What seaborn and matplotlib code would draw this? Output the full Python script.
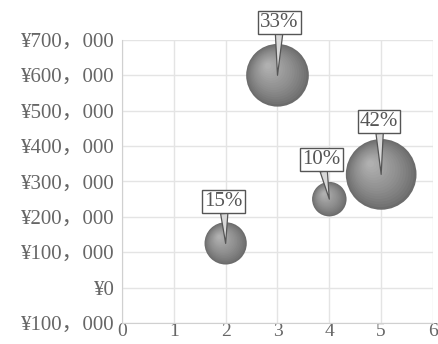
import matplotlib
matplotlib.use('Agg')
import matplotlib.pyplot as plt
import matplotlib.transforms as mtransforms
import seaborn as sns
import numpy as np
import pandas as pd

# data
x_vals = [2, 3, 4, 5]
y_vals = [125000, 600000, 250000, 320000]
shares = [15, 33, 10, 42]
share_labels = ['15%', '33%', '10%', '42%']
y_ticks = [-100000, 0, 100000, 200000, 300000, 400000, 500000, 600000, 700000]
y_tick_labels = ['¥100，000', '¥0', '¥100，000', '¥200，000', '¥300，000',
                 '¥400，000', '¥500，000', '¥600，000', '¥700，000']
x_ticks = [0, 1, 2, 3, 4, 5, 6]

df = pd.DataFrame({'x': x_vals, 'y': y_vals, 'share': shares})

sns.set_style('white')
plt.rcParams['font.family'] = ['Liberation Serif', 'Noto Sans CJK SC', 'DejaVu Sans']
text_color = '#666666'
box_color = '#555555'
grid_color = '#e4e4e4'

fig = plt.figure(figsize=(4.38, 3.44), dpi=100)
ax = fig.add_axes([0.2785, 0.061, 0.7101, 0.823])

k = 61.7  # points^2 per percent, bubble area proportional to share
sns.scatterplot(data=df, x='x', y='y', size='share', sizes=(10 * k, 42 * k),
                color='#6c6c6c', edgecolor='none', legend=False, ax=ax, zorder=3)

# sphere shading: many lighter, smaller discs drifting to the upper left
n_layers = 16
for i in range(1, n_layers + 1):
    t = i / n_layers
    frac = 1 - 0.9 * t
    g = 0x6c + (0xb0 - 0x6c) * (t ** 0.8)
    col = '#{0:02x}{0:02x}{0:02x}'.format(int(g))
    shift = 0.3 * t
    for xv, yv, sh in zip(x_vals, y_vals, shares):
        r_pt = np.sqrt(sh * k) / 2
        off = mtransforms.offset_copy(ax.transData, fig=fig,
                                      x=-shift * r_pt, y=shift * r_pt, units='points')
        ax.scatter([xv], [yv], s=sh * k * frac ** 2, color=col, edgecolor='none',
                   transform=off, zorder=4)

# callout labels
offsets = [(-2, 42), (2, 53), (-8, 40), (-2, 53)]
for xv, yv, lab, (dx, dy) in zip(x_vals, y_vals, share_labels, offsets):
    ax.annotate(lab, xy=(xv, yv), xytext=(dx, dy), textcoords='offset pixels',
                ha='center', va='center', fontsize=15, color=box_color, zorder=6,
                bbox=dict(boxstyle='square,pad=0.1', fc='white', ec=box_color, lw=1),
                arrowprops=dict(arrowstyle='wedge,tail_width=0.35', fc='#d8d8d8',
                                ec=box_color, lw=0.9, shrinkA=0, shrinkB=0))

ax.set_xlim(0, 6)
ax.set_ylim(-100000, 700000)
ax.set_xticks(x_ticks)
ax.set_xticklabels([str(t) for t in x_ticks])
ax.set_yticks(y_ticks)
ax.set_yticklabels(y_tick_labels)
ax.tick_params(axis='y', labelsize=15, colors=text_color, length=0, pad=5)
ax.tick_params(axis='x', labelsize=14, colors=text_color, length=0, pad=0)
ax.set_xlabel('')
ax.set_ylabel('')
ax.grid(True, color=grid_color, lw=1)
ax.set_axisbelow(True)
for side in ['top', 'right']:
    ax.spines[side].set_visible(False)
for side in ['left', 'bottom']:
    ax.spines[side].set_color('#d0d0d0')

fig.savefig('out.png', dpi=100)
